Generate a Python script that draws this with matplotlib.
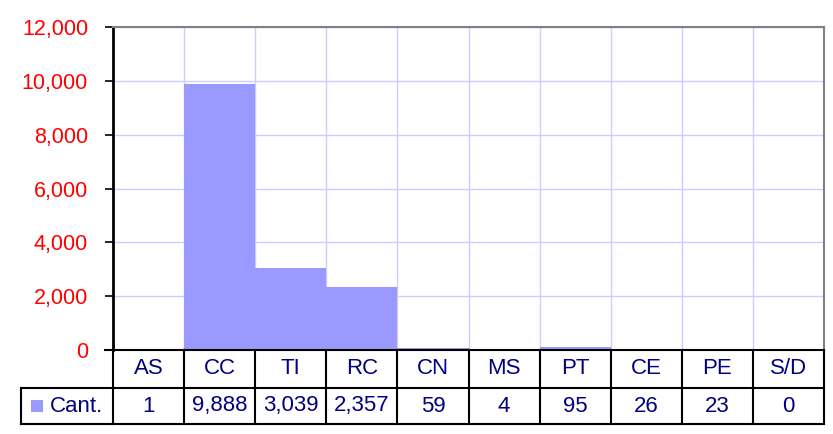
import numpy as np
import matplotlib.pyplot as plt
from matplotlib.patches import Rectangle

plt.rcParams['font.family'] = ['Liberation Sans', 'DejaVu Sans']

categories = ['AS', 'CC', 'TI', 'RC', 'CN', 'MS', 'PT', 'CE', 'PE', 'S/D']
cant = [1, 9888, 3039, 2357, 59, 4, 95, 26, 23, 0]
series_name = 'Cant.'
yticks = [0, 2000, 4000, 6000, 8000, 10000, 12000]

bar_color = '#9999FF'
grid_color = '#CCCCFF'
text_color = '#000080'

W, H = 833, 434
fig = plt.figure(figsize=(W / 100, H / 100), dpi=100)
# plot area in pixels: left 113, right 824, top 27, bottom 350
ax = fig.add_axes([113 / W, (H - 350) / H, 711 / W, 323 / H])

x = np.arange(len(categories))
ax.bar(x, cant, width=1, align='edge', color=bar_color, edgecolor='none')
ax.set_xlim(0, len(categories))
ax.set_ylim(0, 12000)

ax.set_xticks(np.arange(len(categories) + 1))
ax.set_xticklabels([])
ax.tick_params(axis='x', length=0)
ax.set_yticks(yticks)
ax.set_yticklabels([f'{v:,}' for v in yticks], color='#FF0000', fontsize=15.5)
ax.tick_params(axis='y', length=6, width=1.2, color='black', pad=12)
ax.set_axisbelow(True)
ax.grid(True, color=grid_color, linewidth=1)

for side in ['top', 'right']:
    ax.spines[side].set_color('#808080')
    ax.spines[side].set_linewidth(1.5)
ax.spines['left'].set_color('black')
ax.spines['left'].set_linewidth(2)
ax.spines['bottom'].set_color('black')
ax.spines['bottom'].set_linewidth(1.5)

# data table below the plot area
tr = ax.get_xaxis_transform()
ph = 323.0
r1 = -38 / ph
r2 = -74 / ph
n = len(categories)
lk = dict(color='black', linewidth=1.5, transform=tr, clip_on=False)
ax.plot([0, n], [r1, r1], **lk)
ax.plot([0, n], [r2, r2], **lk)
for i in range(n + 1):
    ax.plot([i, i], [0, r2], **lk)
# row label cell, extends to the left of the plot
left = -(113 - 21) / 71.1
ax.plot([left, 0], [r1, r1], **lk)
ax.plot([left, 0], [r2, r2], **lk)
ax.plot([left, left], [r1, r2], **lk)
ax.plot([-8 / 71.1, 0], [0, 0], **lk)

for i, (c, v) in enumerate(zip(categories, cant)):
    ax.text(i + 0.5, r1 / 2, c, transform=tr, ha='center', va='center',
            color=text_color, fontsize=16)
    ax.text(i + 0.5, (r1 + r2) / 2, f'{v:,}', transform=tr, ha='center',
            va='center', color=text_color, fontsize=16)

ax.add_patch(Rectangle((-(113 - 31) / 71.1, (r1 + r2) / 2 - 6 / ph),
                       12 / 71.1, 12 / ph, transform=tr, clip_on=False,
                       facecolor=bar_color, edgecolor='none'))
ax.text(-(113 - 50) / 71.1, (r1 + r2) / 2, series_name, transform=tr,
        ha='left', va='center', color=text_color, fontsize=16)

fig.savefig('out.png', dpi=100)
